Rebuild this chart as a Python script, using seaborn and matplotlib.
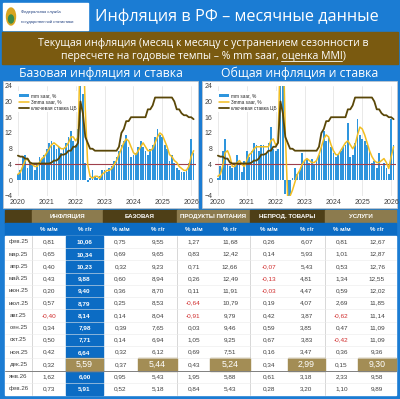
import numpy as np
import pandas as pd
import seaborn as sns
import matplotlib.pyplot as plt
from matplotlib.patches import Rectangle, Patch, Ellipse
from matplotlib.lines import Line2D

sns.set_style("white")
plt.rcParams['font.family'] = ['Liberation Sans', 'DejaVu Sans']
HEAD_FONT = ['Open Sans', 'DejaVu Sans']

# ---- monthly series, Jan 2020 .. Feb 2026 ----
core_mm_saar = [1.5, 2.5, 6.0, 6.5, 3.0, 4.5, 4.0, 2.5, 4.5, 6.0, 5.5, 6.5,
                8.0, 9.5, 10.0, 9.0, 8.0, 8.5, 7.0, 8.0, 9.5, 11.0, 12.5, 10.0,
                9.0, 13.0, 60.0, 22.0, 4.5, -0.5, 0.5, 2.5, 1.0, 0.5, 1.0, 2.5,
                2.5, 2.0, 3.0, 3.5, 5.0, 6.0, 7.5, 9.0, 10.0, 11.5, 8.5, 6.0,
                6.5, 7.0, 8.5, 10.0, 8.5, 7.5, 6.5, 8.0, 9.0, 11.0, 13.0, 11.5,
                11.0, 9.0, 8.0, 5.0, 6.5, 4.5, 3.0, 2.5, 2.0, 2.0, 2.5, 4.5,
                10.5, 7.0]
core_3mma = [1.5, 2.0, 3.5, 5.0, 5.5, 4.5, 4.0, 3.5, 3.5, 4.5, 5.5, 6.0,
             7.0, 8.0, 9.0, 9.5, 9.0, 8.5, 8.0, 8.0, 8.5, 9.5, 11.0, 11.0,
             10.0, 11.0, 35.0, 38.0, 18.0, 4.0, 1.0, 0.5, 1.0, 1.0, 0.5, 1.5,
             2.0, 2.5, 2.5, 3.0, 4.0, 5.0, 6.5, 8.0, 9.5, 10.5, 10.0, 8.5,
             7.0, 6.5, 7.5, 8.5, 9.5, 8.5, 7.5, 7.5, 8.0, 9.5, 11.0, 12.0,
             11.5, 10.0, 8.5, 6.5, 6.0, 5.0, 4.5, 3.5, 3.0, 2.5, 2.5, 3.5,
             6.0, 7.5]
cpi_mm_saar = [0.5, 3.5, 7.5, 10.5, 4.0, 3.5, 3.0, 4.5, 6.5, 4.0, 2.0, 5.0,
               7.5, 6.0, 7.5, 9.5, 9.0, 7.5, 9.0, 9.0, 7.0, 9.5, 13.5, 8.0,
               7.5, 8.0, 80.0, 30.0, -3.5, -4.0, -4.0, 0.5, 3.0, 1.5, 2.5, 7.0,
               5.0, 5.5, 4.5, 5.5, 4.0, 5.0, 6.5, 9.0, 12.5, 10.0, 11.0, 8.5,
               7.0, 6.0, 6.5, 7.5, 8.5, 9.0, 14.5, 6.0, 6.5, 9.5, 15.5, 11.5,
               10.5, 10.0, 9.0, 7.5, 4.5, 5.0, 3.0, 7.0, 3.5, 4.5, 3.0, 1.5,
               15.5, 9.0]
cpi_3mma = [1.0, 1.5, 3.5, 7.0, 7.5, 6.0, 3.5, 3.5, 4.5, 5.0, 4.0, 3.5,
            5.0, 6.5, 7.0, 8.0, 8.5, 8.5, 8.5, 8.5, 8.5, 8.5, 10.0, 10.5,
            9.0, 9.5, 35.0, 40.0, 12.0, -4.5, -4.0, -2.5, -0.5, 1.5, 2.5, 4.0,
            5.0, 5.5, 5.0, 4.5, 4.5, 5.0, 6.5, 8.5, 10.5, 11.5, 11.0, 9.0,
            7.5, 6.5, 6.5, 7.5, 8.5, 9.5, 10.0, 9.0, 8.0, 9.0, 11.5, 13.5,
            13.0, 11.5, 9.5, 7.5, 6.0, 5.0, 4.5, 4.5, 5.0, 5.5, 4.5, 3.0,
            6.0, 8.5]
key_rate = [6.25, 6.0, 6.0, 5.5, 5.5, 4.5, 4.25, 4.25, 4.25, 4.25, 4.25, 4.25,
            4.25, 4.25, 4.5, 5.0, 5.0, 5.5, 6.5, 6.5, 6.75, 7.5, 7.5, 8.5,
            8.5, 9.5, 20.0, 17.0, 11.0, 9.5, 8.0, 8.0, 7.5, 7.5, 7.5, 7.5,
            7.5, 7.5, 7.5, 7.5, 7.5, 7.5, 8.5, 12.0, 13.0, 15.0, 15.0, 16.0,
            16.0, 16.0, 16.0, 16.0, 16.0, 16.0, 18.0, 18.0, 19.0, 21.0, 21.0, 21.0,
            21.0, 21.0, 21.0, 21.0, 21.0, 20.0, 18.0, 18.0, 17.0, 16.5, 16.5, 16.0,
            16.0, 15.5]
target = 4
years = [2020, 2021, 2022, 2023, 2024, 2025, 2026]
legend_labels = ["mm saar, %", "3mma saar, %", "ключевая ставка ЦБ"]

# ---- table ----
row_labels = ["фев.25", "мар.25", "апр.25", "май.25", "июн.25", "июл.25", "авг.25",
              "сен.25", "окт.25", "ноя.25", "дек.25", "янв.26", "фев.26"]
groups = ["ИНФЛЯЦИЯ", "БАЗОВАЯ", "ПРОДУКТЫ ПИТАНИЯ", "НЕПРОД. ТОВАРЫ", "УСЛУГИ"]
infl_mm = [0.81, 0.65, 0.40, 0.43, 0.20, 0.57, -0.40, 0.34, 0.50, 0.42, 0.32, 1.62, 0.73]
infl_yy = [10.06, 10.34, 10.23, 9.88, 9.40, 8.79, 8.14, 7.98, 7.71, 6.64, 5.59, 6.00, 5.91]
core_mm = [0.75, 0.69, 0.32, 0.60, 0.36, 0.25, 0.14, 0.39, 0.14, 0.32, 0.37, 0.95, 0.52]
core_yy = [9.55, 9.65, 9.23, 8.94, 8.70, 8.53, 8.04, 7.65, 6.94, 6.12, 5.44, 5.43, 5.18]
food_mm = [1.27, 0.83, 0.71, 0.26, 0.11, -0.64, -0.91, 0.03, 1.05, 0.69, 0.43, 1.95, 0.84]
food_yy = [11.68, 12.42, 12.66, 12.49, 11.91, 10.79, 9.79, 9.46, 9.25, 7.51, 5.24, 5.88, 5.43]
nonfood_mm = [0.26, 0.14, -0.07, -0.13, -0.03, 0.19, 0.42, 0.59, 0.67, 0.16, 0.34, 0.61, 0.28]
nonfood_yy = [6.07, 5.93, 5.43, 4.81, 4.47, 4.07, 3.87, 3.85, 3.83, 3.47, 2.99, 3.18, 3.20]
serv_mm = [0.81, 1.01, 0.53, 1.34, 0.59, 2.69, -0.62, 0.47, -0.42, 0.36, 0.15, 2.33, 1.10]
serv_yy = [12.67, 12.87, 12.76, 12.55, 12.02, 11.85, 11.14, 11.09, 11.09, 9.36, 9.30, 9.58, 9.89]
highlight_row = "дек.25"

BG_BLUE = "#1B7CD3"
BROWN = "#7A5A10"
HDR_LIGHT = "#8C7B4E"
HDR_DARK = "#4E3F17"
TBL_BLUE = "#0C6CC4"
HILITE = "#A38D55"
BAR = "#2E95DD"
YEL = "#F2BE22"
RATE = "#5A4708"
RED_LINE = "#A0404C"
TXT = "#404040"

fig = plt.figure(figsize=(4, 3.99), dpi=100, facecolor=BG_BLUE)

# background canvas in pixel units
bg = fig.add_axes([0, 0, 1, 1])
bg.set_xlim(0, 400)
bg.set_ylim(399, 0)
bg.axis("off")
bg.set_facecolor(BG_BLUE)

# header: logo + title
bg.add_patch(Rectangle((3, 3), 85, 27, color="white"))
bg.add_patch(Ellipse((11, 16.5), 9, 17, color="#D9A520"))
bg.add_patch(Ellipse((11, 19), 5, 8, color="#3C8B4A"))
bg.text(21, 12.5, "Федеральная служба", fontsize=2.9, color="#1F3F7F", va="center")
bg.text(21, 22.5, "государственной статистики", fontsize=2.9, color="#1F3F7F", va="center")
bg.text(236.5, 17, "Инфляция в РФ – месячные данные", fontsize=11.7, color="white",
        ha="center", va="center", family=HEAD_FONT)

# brown band with subtitle
bg.add_patch(Rectangle((2, 32), 396, 32, color=BROWN))
bg.text(203, 43.5, "Текущая инфляция (месяц к месяцу с устранением сезонности в",
        fontsize=7.6, color="white", ha="center", va="center", family=HEAD_FONT)
line2 = bg.text(203, 56, "пересчете на годовые темпы – % mm saar, оценка MMI)",
                fontsize=7.6, color="white", ha="center", va="center", family=HEAD_FONT)
fig.canvas.draw()
r = fig.canvas.get_renderer()
full = line2.get_window_extent(r)
pre = bg.text(0, 0, "пересчете на годовые темпы – % mm saar, ", fontsize=7.6, family=HEAD_FONT)
sub = bg.text(0, 0, "оценка MMI", fontsize=7.6, family=HEAD_FONT)
x0 = full.x0 + pre.get_window_extent(r).width
x1 = x0 + sub.get_window_extent(r).width
pre.remove()
sub.remove()
bg.plot([x0, x1], [61, 61], color="white", lw=0.6)

# chart panels and titles
for px, title in [(3, "Базовая инфляция и ставка"), (202, "Общая инфляция и ставка")]:
    bg.add_patch(Rectangle((px, 81), 195, 127, facecolor="white", edgecolor="#C8C8C8", lw=0.5))
    bg.text(px + 97.5, 73, title, fontsize=8.8, color="white", ha="center", va="center",
            family=HEAD_FONT)


def draw_chart(rect, bars, smooth):
    ax = fig.add_axes(rect)
    df = pd.DataFrame({"m": range(len(bars)), "bars": bars, "smooth": smooth, "rate": key_rate})
    sns.barplot(data=df, x="m", y="bars", color=BAR, saturation=1, linewidth=0,
                width=0.72, errorbar=None, ax=ax, zorder=2)
    ax.axhline(target, color=RED_LINE, lw=0.8, zorder=3)
    sns.lineplot(data=df, x="m", y="smooth", color=YEL, lw=1.1, ax=ax, zorder=4)
    sns.lineplot(data=df, x="m", y="rate", color=RATE, lw=1.3, ax=ax, zorder=5)
    ax.set_xlim(-1.2, 74.0)
    ax.set_ylim(-4, 24)
    ax.set_yticks(range(-4, 25, 4))
    ax.set_xticks([12 * k for k in range(len(years))])
    ax.set_xticklabels([str(y) for y in years])
    ax.xaxis.grid(True, color="#E0E0E0", lw=0.5, zorder=0)
    ax.set_axisbelow(True)
    ax.set_xlabel("")
    ax.set_ylabel("")
    ax.tick_params(labelsize=5, colors=TXT, length=0, pad=2)
    for s in ax.spines.values():
        s.set_visible(False)
    ax.set_facecolor("none")
    handles = [Patch(color=BAR, lw=0), Line2D([], [], color=YEL, lw=1.1),
               Line2D([], [], color=RATE, lw=1.3)]
    leg = ax.legend(handles, legend_labels, loc="upper left", bbox_to_anchor=(0.0, 0.97),
                    fontsize=3.4, frameon=True, handlelength=2.2, handleheight=0.6,
                    labelspacing=0.3, borderpad=0.3, handletextpad=0.4)
    leg.get_frame().set_facecolor("white")
    leg.get_frame().set_edgecolor("none")
    leg.get_frame().set_alpha(1)
    return ax


draw_chart([15 / 400, 1 - 196 / 399, 181 / 400, 110.3 / 399], core_mm_saar, core_3mma)
draw_chart([215 / 400, 1 - 196 / 399, 181 / 400, 110.3 / 399], cpi_mm_saar, cpi_3mma)

# ---- table ----
col_edges = [5, 32, 66, 103, 138, 177, 210, 250, 288, 325, 358, 396]
cols = [infl_mm, infl_yy, core_mm, core_yy, food_mm, food_yy,
        nonfood_mm, nonfood_yy, serv_mm, serv_yy]
h1_top, h2_top, body_top, row_h = 210, 222.5, 235.8, 12.25
body_bottom = body_top + row_h * len(row_labels)

bg.add_patch(Rectangle((col_edges[0], h1_top), col_edges[1] - col_edges[0], h2_top - h1_top,
                       color=HDR_DARK))
for g, name in enumerate(groups):
    xa, xb = col_edges[1 + 2 * g], col_edges[3 + 2 * g]
    bg.add_patch(Rectangle((xa + 0.4, h1_top), xb - xa - 0.8, h2_top - h1_top,
                           color=HDR_LIGHT if g % 2 == 0 else HDR_DARK))
    bg.text((xa + xb) / 2, (h1_top + h2_top) / 2 + 0.3, name, fontsize=4.4, color="white",
            ha="center", va="center", fontweight="bold")
bg.add_patch(Rectangle((col_edges[0], h2_top), col_edges[-1] - col_edges[0], body_top - h2_top,
                       color=TBL_BLUE))
for c in range(10):
    xa, xb = col_edges[1 + c], col_edges[2 + c]
    bg.text((xa + xb) / 2, (h2_top + body_top) / 2, "% м/м" if c % 2 == 0 else "% г/г",
            fontsize=4.4, color="white", ha="center", va="center", fontweight="bold")

bg.add_patch(Rectangle((col_edges[0], body_top), col_edges[-1] - col_edges[0],
                       body_bottom - body_top, color="white"))
bg.add_patch(Rectangle((col_edges[2], body_top), col_edges[3] - col_edges[2],
                       body_bottom - body_top, color=TBL_BLUE))
for xe in [col_edges[1], col_edges[5], col_edges[7], col_edges[9]]:
    bg.plot([xe, xe], [body_top, body_bottom], color="#C8C8C8", lw=0.5)

for i, lab in enumerate(row_labels):
    yc = body_top + row_h * (i + 0.5)
    if i > 0:
        bg.plot([col_edges[0], col_edges[-1]], [body_top + row_h * i] * 2,
                color="#808080" if row_labels[i - 1] == highlight_row else "#EBEBEB",
                lw=0.7 if row_labels[i - 1] == highlight_row else 0.4, zorder=3)
    bg.text((col_edges[0] + col_edges[1]) / 2, yc, lab, fontsize=4.4, color=TXT,
            ha="center", va="center")
    for c, vals in enumerate(cols):
        xa, xb = col_edges[1 + c], col_edges[2 + c]
        v = vals[i]
        s = f"{v:.2f}".replace(".", ",")
        if lab == highlight_row and c % 2 == 1:
            bg.add_patch(Rectangle((xa, body_top + row_h * i), xb - xa, row_h,
                                   color=HILITE, zorder=2))
            bg.text((xa + xb) / 2, yc, s, fontsize=6.3, color="white",
                    ha="center", va="center", zorder=4)
        elif c == 1:
            bg.text((xa + xb) / 2, yc, s, fontsize=4.6, color="white",
                    ha="center", va="center", fontweight="bold")
        else:
            bg.text((xa + xb) / 2, yc, s, fontsize=4.6,
                    color="#D02C2C" if v < 0 else TXT, ha="center", va="center")

fig.savefig("out.png", dpi=100, facecolor=BG_BLUE)
